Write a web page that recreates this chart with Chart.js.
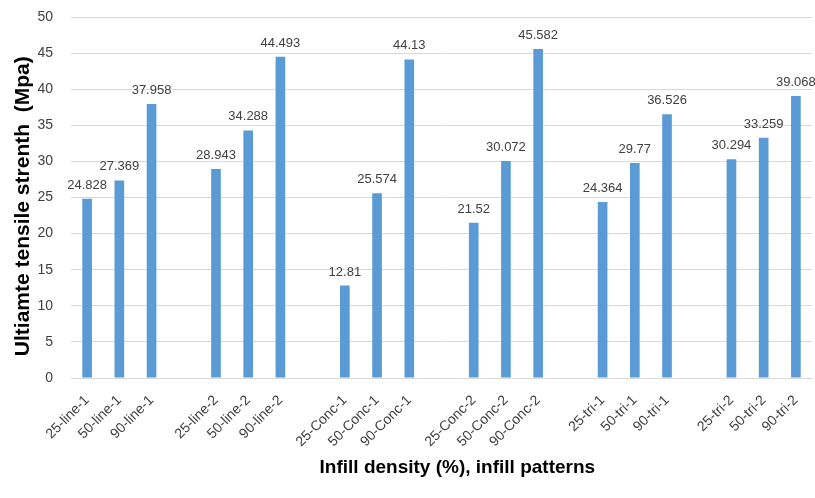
<!DOCTYPE html>
<html>
<head>
<meta charset="utf-8">
<script src="https://cdn.jsdelivr.net/npm/chart.js@4"></script>
<style>
  html, body { margin: 0; padding: 0; background: #fff; }
  #wrap { width: 815px; height: 498px; }
</style>
</head>
<body>
<div id="wrap"><canvas id="strengthChart"></canvas></div>
<script>
// categories ('' = empty spacer slot between groups)
const categories = [
  '25-line-1', '50-line-1', '90-line-1', '',
  '25-line-2', '50-line-2', '90-line-2', '',
  '25-Conc-1', '50-Conc-1', '90-Conc-1', '',
  '25-Conc-2', '50-Conc-2', '90-Conc-2', '',
  '25-tri-1', '50-tri-1', '90-tri-1', '',
  '25-tri-2', '50-tri-2', '90-tri-2'
];
const strength = [
  24.828, 27.369, 37.958, null,
  28.943, 34.288, 44.493, null,
  12.81, 25.574, 44.13, null,
  21.52, 30.072, 45.582, null,
  24.364, 29.77, 36.526, null,
  30.294, 33.259, 39.068
];
const yTicks = [0, 5, 10, 15, 20, 25, 30, 35, 40, 45, 50];

const FONT = '"Liberation Sans", Arial, sans-serif';

// value labels above each bar
const valueLabels = {
  id: 'valueLabels',
  afterDatasetsDraw(chart) {
    const { ctx } = chart;
    const meta = chart.getDatasetMeta(0);
    ctx.save();
    ctx.font = '13px ' + FONT;
    ctx.fillStyle = '#404040';
    ctx.textAlign = 'center';
    ctx.textBaseline = 'alphabetic';
    meta.data.forEach((bar, i) => {
      const v = strength[i];
      if (v == null) return;
      ctx.fillText(String(v), bar.x, bar.y - 10);
    });
    ctx.restore();
  },
};

new Chart(document.getElementById('strengthChart'), {
  type: 'bar',
  data: {
    labels: categories,
    datasets: [
      {
        data: strength,
        backgroundColor: '#5b9bd5',
        barPercentage: 0.3,
        categoryPercentage: 1,
      },
    ],
  },
  options: {
    responsive: true,
    maintainAspectRatio: false,
    animation: false,
    layout: { padding: { top: 17, right: 3, left: 4, bottom: 0 } },
    plugins: {
      legend: { display: false },
      tooltip: { enabled: false },
    },
    scales: {
      x: {
        afterFit(axis) {
          axis.height = 120;
          axis.paddingLeft = 0;
          axis.paddingRight = 0;
        },
        grid: { display: false },
        border: { color: '#d9d9d9' },
        ticks: {
          autoSkip: false,
          maxRotation: 45,
          minRotation: 45,
          padding: 6,
          color: '#404040',
          font: { family: FONT, size: 14 },
        },
        title: {
          display: true,
          // leading spaces nudge the title right, as in the original
          text: '      Infill density (%), infill patterns',
          color: '#000',
          font: { family: FONT, size: 19, weight: 'bold' },
          padding: { top: 4, bottom: 19 },
        },
      },
      y: {
        min: 0,
        max: 50,
        afterBuildTicks(axis) {
          axis.ticks = yTicks.map(v => ({ value: v }));
        },
        afterFit(axis) {
          axis.width = 67;
          axis.paddingTop = 0;
          axis.paddingBottom = 0;
        },
        grid: { color: '#d9d9d9', drawTicks: false },
        border: { display: false },
        ticks: {
          padding: 18,
          color: '#404040',
          font: { family: FONT, size: 14 },
        },
        title: {
          display: true,
          text: 'Ultiamte tensile strenth  (Mpa)   ',
          color: '#000',
          font: { family: FONT, size: 21, weight: 'bold' },
          padding: { top: 7, bottom: 3 },
        },
      },
    },
  },
  plugins: [valueLabels],
});
</script>
</body>
</html>
